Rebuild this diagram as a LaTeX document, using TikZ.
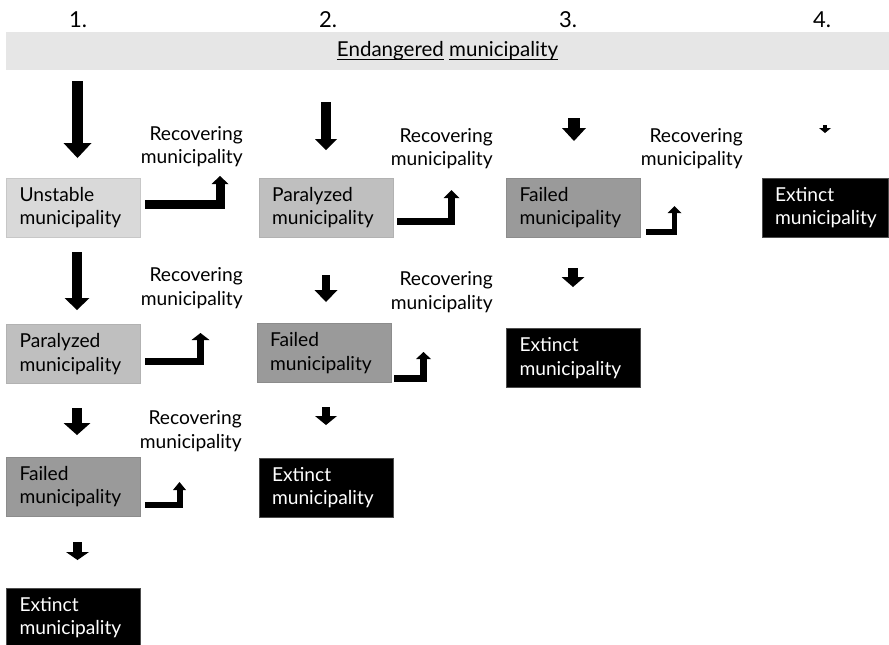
\documentclass[tikz,border=0pt]{standalone}
\usepackage{fontspec}
\setmainfont{Lato}
\usetikzlibrary{arrows.meta}
\definecolor{banfill}{HTML}{E6E6E6}
\definecolor{lightbox}{HTML}{D9D9D9}
\definecolor{midbox}{HTML}{BFBFBF}
\definecolor{darkbox}{HTML}{9A9A9A}
\newcommand\myul[1]{\setbox0\hbox{#1}\rlap{\rule[-2.3pt]{\wd0}{0.6pt}}\box0\relax}
\tikzset{
  mbox/.style={rectangle, inner xsep=9.75pt, inner ysep=0pt, minimum height=44.25pt,
    text width=81pt, align=left, font=\fontsize{14.4}{17.5}\selectfont},
  lightst/.style={mbox, fill=lightbox, draw=black!22, line width=0.4pt},
  midst/.style={mbox, fill=midbox, draw=black!30, line width=0.4pt},
  darkst/.style={mbox, fill=darkbox, draw=black!45, line width=0.4pt},
  extst/.style={mbox, fill=black, text=white, draw=black!70, line width=0.4pt},
  rec/.style={align=right, anchor=east, inner sep=0pt, font=\fontsize{14.4}{17.5}\selectfont},
  hnum/.style={inner sep=0pt, font=\fontsize{16.5}{19}\selectfont},
  fat/.style n args={3}{line width=#1, -{Triangle[width=#2, length=#3, line width=0pt]}},
  bent/.style n args={3}{line width=#1, line join=miter, -{Triangle[width=#2, length=#3, line width=0pt]}}
}
\begin{document}
\begin{tikzpicture}[x=0.75pt,y=-0.75pt]
\useasboundingbox (0,0) rectangle (889,644);
\begin{scope}
\clip (0,0) rectangle (889,644);
% headers
\node[hnum] (h1) at (78,20) {1.};
\node[hnum] (h2) at (328,20) {2.};
\node[hnum] (h3) at (568,20) {3.};
\node[hnum] (h4) at (822,20) {4.};
% banner
\node[rectangle, fill=banfill, minimum width=662.25pt, minimum height=28.5pt, inner sep=0pt,
  font=\fontsize{15.4}{18}\selectfont] (ban) at (447.5,51)
  {\myul{Endangered}\ \myul{municipality}};
% column 1
\node[lightst] (u1) at (73.5,207.5) {Unstable\\municipality};
\node[midst] (p1) at (73.5,354) {Paralyzed\\municipality};
\node[darkst] (f1) at (73.5,486.5) {Failed\\municipality};
\node[extst] (e1) at (73.5,617.5) {Extinct\\municipality};
\node[rec] (r11) at (243,146.5) {Recovering\\municipality};
\node[rec] (r12) at (243,288) {Recovering\\municipality};
\node[rec] (r13) at (242,431) {Recovering\\municipality};
% column 2
\node[midst] (p2) at (326,207.5) {Paralyzed\\municipality};
\node[darkst] (f2) at (324,353) {Failed\\municipality};
\node[extst] (e2) at (326,487.5) {Extinct\\municipality};
\node[rec] (r21) at (493,148.5) {Recovering\\municipality};
\node[rec] (r22) at (493,292) {Recovering\\municipality};
% column 3
\node[darkst] (f3) at (573.5,207.5) {Failed\\municipality};
\node[extst] (e3) at (573.5,358) {Extinct\\municipality};
\node[rec] (r31) at (743,148.5) {Recovering\\municipality};
% column 4
\node[extst, minimum width=94.5pt, text width=75pt] (e4) at (825,207.5) {Extinct\\municipality};
% fat down arrows
\coordinate (a11s) at (77.5,81);  \coordinate (a11e) at (77.5,158);
\coordinate (a12s) at (77,252);   \coordinate (a12e) at (77,310);
\coordinate (a13s) at (77,408);   \coordinate (a13e) at (77,435);
\coordinate (a14s) at (77.5,542); \coordinate (a14e) at (77.5,560);
\coordinate (a21s) at (326,102);  \coordinate (a21e) at (326,150);
\coordinate (a22s) at (326,275);  \coordinate (a22e) at (326,302);
\coordinate (a23s) at (326,407);  \coordinate (a23e) at (326,425);
\coordinate (a31s) at (574,118);  \coordinate (a31e) at (574,141);
\coordinate (a32s) at (573,268);  \coordinate (a32e) at (573,287);
\coordinate (a41s) at (825,125);  \coordinate (a41e) at (825,133);
\draw[fat={8.25pt}{21pt}{11.25pt}] (a11s) -- (a11e);
\draw[fat={7.5pt}{18.75pt}{9pt}] (a12s) -- (a12e);
\draw[fat={7.5pt}{20.25pt}{9pt}] (a13s) -- (a13e);
\draw[fat={6.75pt}{17.25pt}{6pt}] (a14s) -- (a14e);
\draw[fat={7.5pt}{16.5pt}{8.25pt}] (a21s) -- (a21e);
\draw[fat={6pt}{17.25pt}{9pt}] (a22s) -- (a22e);
\draw[fat={6pt}{16.5pt}{6.75pt}] (a23s) -- (a23e);
\draw[fat={9pt}{18pt}{9.75pt}] (a31s) -- (a31e);
\draw[fat={7.5pt}{17.25pt}{7.5pt}] (a32s) -- (a32e);
\draw[fat={3pt}{9pt}{3.75pt}] (a41s) -- (a41e);
% bent recovering arrows
\coordinate (b11s) at (145,204);   \coordinate (b11c) at (220,204);     \coordinate (b11e) at (220,176);
\coordinate (b12s) at (145,361.5); \coordinate (b12c) at (200.5,361.5); \coordinate (b12e) at (200.5,333);
\coordinate (b13s) at (145,505);   \coordinate (b13c) at (179.5,505);   \coordinate (b13e) at (179.5,482);
\coordinate (b21s) at (397,221.5); \coordinate (b21c) at (451.5,221.5); \coordinate (b21e) at (451.5,190);
\coordinate (b22s) at (394,378.5); \coordinate (b22c) at (423.5,378.5); \coordinate (b22e) at (423.5,352);
\coordinate (b31s) at (646,232);   \coordinate (b31c) at (674.5,232);   \coordinate (b31e) at (674.5,206);
\draw[bent={6.75pt}{12.75pt}{6pt}] (b11s) -- (b11c) -- (b11e);
\draw[bent={5.25pt}{13.5pt}{5.25pt}] (b12s) -- (b12c) -- (b12e);
\draw[bent={4.5pt}{9.75pt}{6pt}] (b13s) -- (b13c) -- (b13e);
\draw[bent={5.25pt}{12pt}{6pt}] (b21s) -- (b21c) -- (b21e);
\draw[bent={5.25pt}{11.25pt}{5.25pt}] (b22s) -- (b22c) -- (b22e);
\draw[bent={4.125pt}{10.5pt}{5.25pt}] (b31s) -- (b31c) -- (b31e);
\end{scope}
\end{tikzpicture}
\end{document}
